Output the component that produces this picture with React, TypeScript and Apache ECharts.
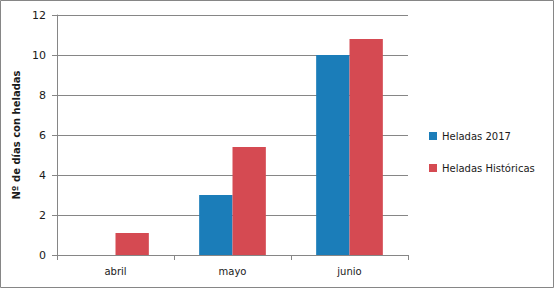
import React, { useEffect, useRef } from "react";
import * as echarts from "echarts";

const categories = ["abril", "mayo", "junio"];
const heladas2017 = [null, 3, 10];
const heladasHistoricas = [1.1, 5.4, 10.8];
const seriesNames = ["Heladas 2017", "Heladas Históricas"];
const yAxisTitle = "Nº de días con heladas";

export default function App() {
  const ref = useRef<HTMLDivElement>(null);
  useEffect(() => {
    if (!ref.current) return;
    const chart = echarts.init(ref.current, null, { renderer: "svg" });
    const font = "DejaVu Sans";
    chart.setOption({
      animation: false,
      textStyle: { fontFamily: font },
      graphic: [
        {
          type: "rect",
          shape: { x: 0.5, y: 0.5, width: 553, height: 287 },
          style: { fill: "none", stroke: "#868686", lineWidth: 1 },
          silent: true,
        },
      ],
      grid: { left: 57, right: 146, top: 15, bottom: 33 },
      legend: {
        orient: "vertical",
        left: 424,
        top: 126,
        itemWidth: 8,
        itemHeight: 8,
        itemGap: 22,
        icon: "rect",
        textStyle: { fontFamily: font, fontSize: 10, color: "#1a1a1a" },
        data: seriesNames,
      },
      xAxis: {
        type: "category",
        data: categories,
        axisLine: { lineStyle: { color: "#868686" } },
        axisTick: { show: true, length: 5, lineStyle: { color: "#868686" } },
        axisLabel: { fontFamily: font, fontSize: 10, color: "#1a1a1a", margin: 11 },
      },
      yAxis: {
        type: "value",
        min: 0,
        max: 12,
        interval: 2,
        name: yAxisTitle,
        nameLocation: "middle",
        nameGap: 35,
        nameRotate: 90,
        nameTextStyle: { fontFamily: font, fontSize: 10, fontWeight: "bold", color: "#1a1a1a" },
        axisLine: { show: true, lineStyle: { color: "#868686" } },
        axisTick: { show: true, length: 5, lineStyle: { color: "#868686" } },
        axisLabel: { fontFamily: font, fontSize: 11, color: "#1a1a1a", margin: 11 },
        splitLine: { lineStyle: { color: "#868686" } },
      },
      series: [
        {
          name: seriesNames[0],
          type: "bar",
          data: heladas2017,
          barGap: "0%",
          barCategoryGap: "43%",
          itemStyle: { color: "#1B7DB9" },
        },
        {
          name: seriesNames[1],
          type: "bar",
          data: heladasHistoricas,
          barGap: "0%",
          barCategoryGap: "43%",
          itemStyle: { color: "#D54A52" },
        },
      ],
    });
    return () => chart.dispose();
  }, []);
  return (
    <div
      ref={ref}
      style={{ position: "fixed", left: 0, top: 0, width: 554, height: 288, background: "#fff" }}
    />
  );
}
